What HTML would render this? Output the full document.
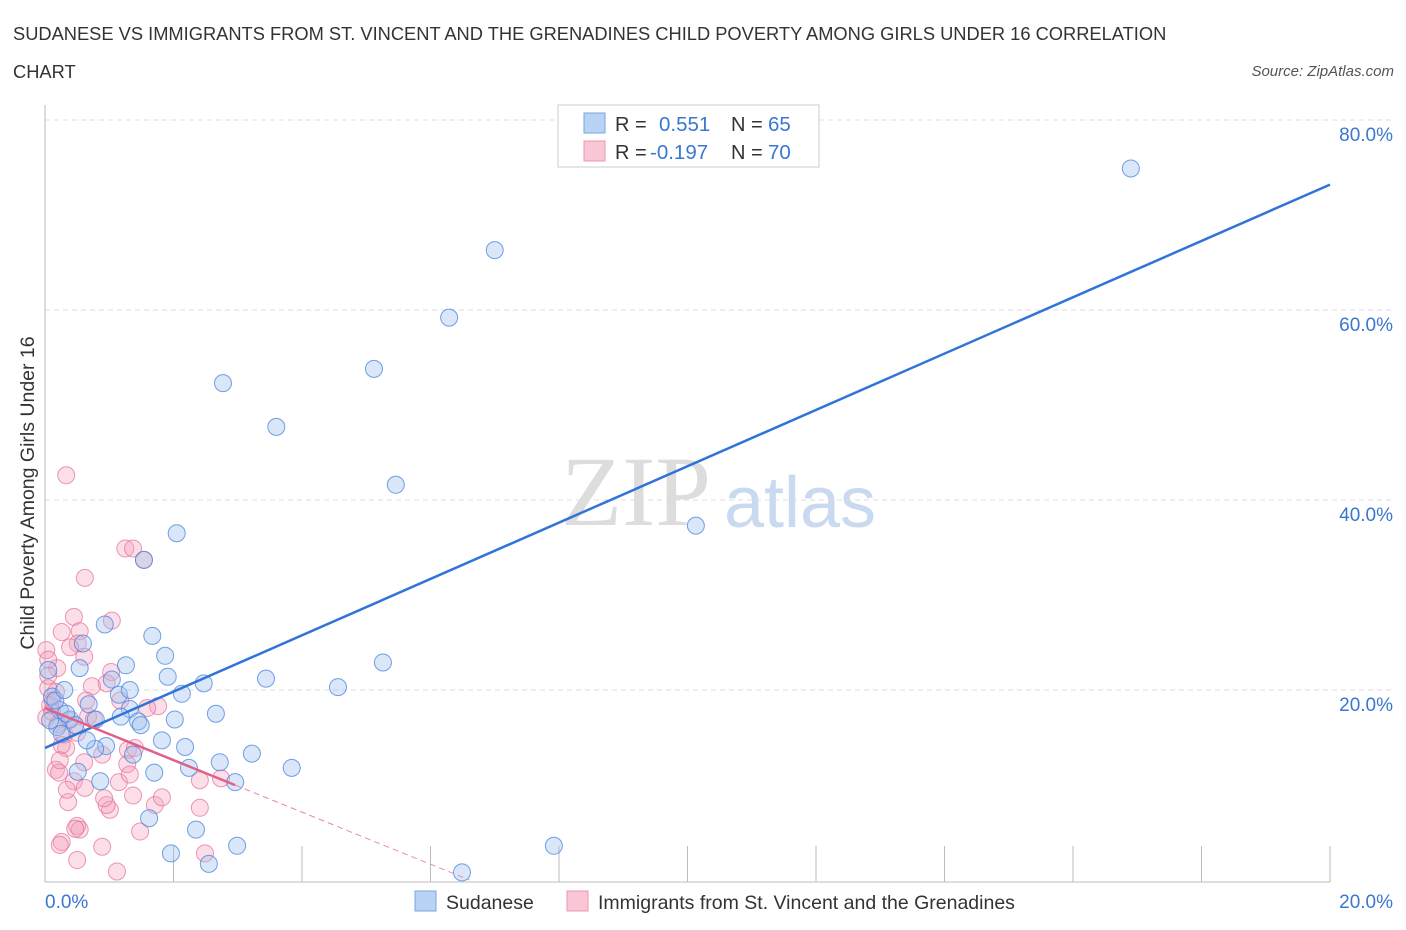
<!DOCTYPE html>
<html><head><meta charset="utf-8"><style>
body{margin:0;background:#fff;font-family:"Liberation Sans",sans-serif}
svg{display:block}
</style></head><body>
<svg id="c" width="1406" height="930">
<text x="13" y="40" font-size="18.3" fill="#333">SUDANESE VS IMMIGRANTS FROM ST. VINCENT AND THE GRENADINES CHILD POVERTY AMONG GIRLS UNDER 16 CORRELATION</text>
<text x="13" y="78" font-size="18.3" fill="#333">CHART</text>
<text x="1394" y="76" font-size="15" fill="#555" font-style="italic" text-anchor="end">Source: ZipAtlas.com</text>
<text x="34" y="493" font-size="19.5" fill="#333" text-anchor="middle" transform="rotate(-90 34 493)">Child Poverty Among Girls Under 16</text>
<text x="636" y="525" font-size="100" fill="#ddd" font-family="Liberation Serif" text-anchor="middle">ZIP</text>
<text x="800" y="527" font-size="72" fill="#c9daf0" text-anchor="middle">atlas</text>
<g id="grid"></g><g id="pts"></g><g id="lines"></g>
<g>
<rect x="558" y="105" width="261" height="62" fill="#fff" stroke="#ccc"/>
<rect x="584" y="113" width="21" height="20" fill="#b9d3f4" stroke="#7aa6e0"/>
<rect x="584" y="141" width="21" height="20" fill="#f9c6d6" stroke="#ee97b2"/>
<text x="615" y="131" font-size="20" fill="#333">R = </text><text x="659" y="131" font-size="20.5" fill="#3a77d0">0.551</text>
<text x="731" y="131" font-size="20" fill="#333">N = </text><text x="768" y="131" font-size="20.5" fill="#3a77d0">65</text>
<text x="615" y="159" font-size="20" fill="#333">R = </text><text x="650" y="159" font-size="20.5" fill="#3a77d0">-0.197</text>
<text x="731" y="159" font-size="20" fill="#333">N = </text><text x="768" y="159" font-size="20.5" fill="#3a77d0">70</text>
</g>
<g>
<rect x="415" y="891" width="21" height="20" fill="#b9d3f4" stroke="#7aa6e0"/>
<text x="446" y="909" font-size="19.5" fill="#333">Sudanese</text>
<rect x="567" y="891" width="21" height="20" fill="#f9c6d6" stroke="#ee97b2"/>
<text x="598" y="909" font-size="19.5" fill="#333">Immigrants from St. Vincent and the Grenadines</text>
</g>
<text x="45" y="908" font-size="19" fill="#3a77d0">0.0%</text>
<text x="1393" y="908" font-size="19" fill="#3a77d0" text-anchor="end">20.0%</text>
</svg>
<script>
const yTicks=[20,40,60,80];
const blueX=[16.90,7.00,6.29,2.77,5.12,3.60,5.46,10.13,2.05,1.54,0.93,1.67,0.59,1.87,1.26,0.54,5.26,1.91,2.47,3.44,4.56,1.04,1.15,2.13,0.11,0.68,1.32,2.66,0.23,0.79,1.18,1.45,1.49,2.02,0.39,0.19,0.26,0.95,1.82,2.18,0.78,2.72,3.22,1.37,1.70,2.24,3.84,0.51,0.86,2.96,1.62,2.35,1.96,2.99,2.55,7.92,6.49,0.05,0.16,0.33,0.47,0.65,0.08,0.30,1.32];
const blueY=[74.9,66.3,59.2,52.3,53.8,47.7,41.6,37.3,36.5,33.7,26.9,25.7,24.9,23.6,22.6,22.3,22.9,21.4,20.7,21.2,20.3,21.1,19.5,19.6,19.3,18.5,18.0,17.5,17.9,16.9,17.2,16.7,16.3,16.9,16.9,16.1,15.4,14.1,14.7,14.0,13.8,12.4,13.3,13.2,11.3,11.8,11.8,11.4,10.4,10.3,6.5,5.3,2.8,3.6,1.7,3.6,0.8,22.1,18.9,17.5,16.3,14.7,16.8,20.0,20.0];
const pinkX=[0.33,1.25,1.37,1.54,0.62,0.45,0.26,0.54,0.51,0.39,0.02,0.19,0.05,1.04,1.03,0.96,0.73,1.76,1.17,0.17,0.08,0.02,0.11,0.20,0.30,0.33,0.26,0.64,0.36,0.50,0.89,1.29,1.40,0.61,0.17,0.22,0.45,0.36,0.62,1.15,1.59,0.67,1.01,1.37,1.71,0.96,0.92,2.41,2.74,1.28,0.34,0.50,0.54,0.26,0.47,1.48,0.89,0.23,0.50,1.12,2.49,1.82,1.32,0.76,0.05,0.12,2.41,0.23,0.61,0.05];
const pinkY=[42.6,34.9,34.9,33.7,31.8,27.7,26.1,26.2,24.9,24.5,24.2,22.3,23.2,27.3,21.9,20.7,20.4,18.3,18.9,19.8,18.4,17.1,17.7,16.4,15.3,13.9,14.2,18.9,16.8,15.5,13.2,13.7,13.9,12.4,11.6,11.3,10.4,8.2,9.7,10.3,18.1,17.2,7.4,8.9,7.9,7.9,8.6,7.6,10.7,12.2,9.5,5.7,5.3,4.0,5.4,5.1,3.5,3.7,2.1,0.9,2.8,8.7,11.1,16.9,20.2,18.9,10.5,12.6,23.5,21.5];
const blueFit=[13.9,73.2];
const pinkFit=[18.1,-2.74];
const NS='http://www.w3.org/2000/svg';
const sx=v=>45+v*64.25, sy=v=>880-v*9.5;
function mk(t,a,p){const e=document.createElementNS(NS,t);for(const k in a)e.setAttribute(k,a[k]);document.getElementById(p).appendChild(e);return e;}
yTicks.forEach(t=>{
 const l=mk('line',{x1:45,x2:1395,y1:sy(t),y2:sy(t),stroke:'#ddd','stroke-dasharray':'5,4'},'grid');
 
 
 const tx=mk('text',{x:1393,y:sy(t)+21,'font-size':19,fill:'#3a77d0','text-anchor':'end'},'grid');
 tx.textContent=t.toFixed(1)+'%';
 
 
});
mk('line',{x1:45,x2:45,y1:105,y2:882,stroke:'#bbb'},'grid');
mk('line',{x1:45,x2:1330,y1:882,y2:882,stroke:'#bbb'},'grid');
for(let i=1;i<=10;i++){const t=mk('line',{x1:sx(i*2),x2:sx(i*2),y1:846,y2:882,stroke:'#bbb'},'grid');
 
 }
pinkX.forEach((x,i)=>{const c=mk('circle',{cx:sx(x),cy:sy(pinkY[i]),r:8.5,fill:'rgba(244,160,188,0.35)',stroke:'rgba(230,110,150,0.7)','stroke-width':1},'pts');
 
 });
blueX.forEach((x,i)=>{const c=mk('circle',{cx:sx(x),cy:sy(blueY[i]),r:8.5,fill:'rgba(160,196,240,0.4)',stroke:'rgba(70,130,220,0.75)','stroke-width':1},'pts');
 
 });
const bl=mk('line',{x1:sx(0),y1:sy(blueFit[0]),x2:sx(20),y2:sy(blueFit[1]),stroke:'#2f74d6','stroke-width':2.5},'lines');


const xe=2.96, x0=-pinkFit[0]/pinkFit[1];
const pl=mk('line',{x1:sx(0),y1:sy(pinkFit[0]),x2:sx(xe),y2:sy(pinkFit[0]+pinkFit[1]*xe),stroke:'#e0608a','stroke-width':2.5},'lines');


const pd=mk('line',{x1:sx(xe),y1:sy(pinkFit[0]+pinkFit[1]*xe),x2:sx(x0),y2:sy(0),stroke:'#e88aa8','stroke-width':1,'stroke-dasharray':'6,4'},'lines');


</script>
</body></html>
